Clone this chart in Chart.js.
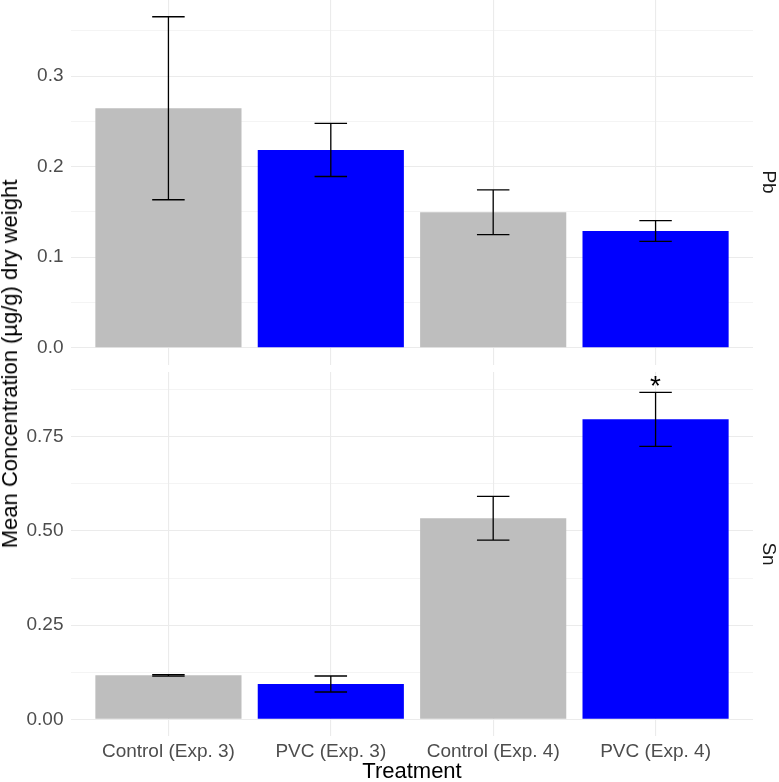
<!DOCTYPE html>
<html>
<head>
<meta charset="utf-8">
<script src="https://cdn.jsdelivr.net/npm/chart.js@4.4.1/dist/chart.umd.min.js"></script>
<style>
  html, body { margin: 0; padding: 0; background: #fff; overflow: hidden; }
  body { width: 779px; height: 782px; position: relative; font-family: "Liberation Sans", Arial, sans-serif; }
  canvas { position: absolute; left: 0; }
  #pbCanvas { top: 0; }
  #snCanvas { top: 372px; }
  .ytitle { position: absolute; left: 10px; top: 364px; transform: translate(-50%, -50%) rotate(-90deg); white-space: nowrap; font-size: 22px; color: #000; }
  .strip { position: absolute; left: 769px; transform: translate(-50%, -50%) rotate(90deg); white-space: nowrap; font-size: 19px; color: #1A1A1A; }
</style>
</head>
<body>
<canvas id="pbCanvas" width="779" height="365"></canvas>
<canvas id="snCanvas" width="779" height="411"></canvas>
<div class="ytitle">Mean Concentration (µg/g) dry weight</div>
<div class="strip" style="top:182px">Pb</div>
<div class="strip" style="top:554px">Sn</div>
<script>
// données
const treatments = ["Control (Exp. 3)", "PVC (Exp. 3)", "Control (Exp. 4)", "PVC (Exp. 4)"];
const pbMean = [0.2646, 0.2185, 0.1496, 0.1290];
const pbSE = [0.1011, 0.0293, 0.0247, 0.0114];
const snMean = [0.1167, 0.0937, 0.5334, 0.7960];
const snSE = [0.0020, 0.0212, 0.0580, 0.0718];
const snStars = ["", "", "", "*"];

const pbTicks = [0, 0.1, 0.2, 0.3];
const pbTickLabels = ["0.0", "0.1", "0.2", "0.3"];
const pbMinor = [0.05, 0.15, 0.25, 0.35];
const snTicks = [0, 0.25, 0.5, 0.75];
const snTickLabels = ["0.00", "0.25", "0.50", "0.75"];
const snMinor = [0.125, 0.375, 0.625, 0.875];

const barColors = ["#BEBEBE", "#0000FF", "#BEBEBE", "#0000FF"];
const family = '"Liberation Sans", Arial, sans-serif';

// barres d'erreur + étoile
const errorBars = {
  id: "errorBars",
  afterDatasetsDraw(chart, args, opts) {
    const { ctx } = chart;
    const x = chart.scales.x, y = chart.scales.y;
    ctx.save();
    ctx.strokeStyle = "#000";
    ctx.lineWidth = 1.3;
    opts.means.forEach((m, i) => {
      const hi = y.getPixelForValue(m + opts.ses[i]);
      const lo = y.getPixelForValue(m - opts.ses[i]);
      const cx = x.getPixelForValue(i);
      const x0 = x.getPixelForValue(i - 0.1);
      const x1 = x.getPixelForValue(i + 0.1);
      ctx.beginPath();
      ctx.moveTo(cx, hi); ctx.lineTo(cx, lo);
      ctx.moveTo(x0, hi); ctx.lineTo(x1, hi);
      ctx.moveTo(x0, lo); ctx.lineTo(x1, lo);
      ctx.stroke();
      if (opts.stars && opts.stars[i]) {
        ctx.fillStyle = "#000";
        ctx.font = "28px " + family;
        ctx.textAlign = "center";
        ctx.textBaseline = "alphabetic";
        ctx.fillText(opts.stars[i], cx, hi + 3);
      }
    });
    ctx.restore();
  }
};

function makePanel(id, means, ses, majors, labels, minors, yMin, yMax, showX, stars) {
  const ctx = document.getElementById(id).getContext("2d");
  return new Chart(ctx, {
    type: "bar",
    data: {
      datasets: [{
        data: means.map((v, i) => ({ x: i, y: v })),
        backgroundColor: barColors,
        borderWidth: 0,
        barPercentage: 0.9,
        categoryPercentage: 1.0
      }]
    },
    plugins: [errorBars],
    options: {
      responsive: false,
      animation: false,
      layout: { padding: { left: 0, right: 26, top: 0, bottom: 0 } },
      plugins: {
        legend: { display: false },
        tooltip: { enabled: false },
        errorBars: { means: means, ses: ses, stars: stars }
      },
      scales: {
        x: {
          type: "linear",
          min: -0.6,
          max: 3.6,
          offset: false,
          afterBuildTicks: ax => { ax.ticks = treatments.map((t, i) => ({ value: i })); },
          afterFit: ax => { ax.height = showX ? 47 : 0; ax.paddingLeft = 0; ax.paddingRight = 0; },
          grid: { color: "#EBEBEB", lineWidth: 1.1, drawTicks: false, offset: false },
          border: { display: false },
          ticks: {
            display: showX,
            autoSkip: false,
            maxRotation: 0,
            padding: 4,
            color: "#4D4D4D",
            font: { size: 19, family: family },
            callback: v => treatments[v]
          },
          title: {
            display: showX,
            text: "Treatment",
            color: "#000",
            font: { size: 22, family: family, lineHeight: 1 },
            padding: 0
          }
        },
        y: {
          min: yMin,
          max: yMax,
          afterBuildTicks: ax => {
            ax.ticks = majors.concat(minors).sort((a, b) => a - b).map(v => ({ value: v }));
          },
          afterFit: ax => { ax.width = 71; ax.paddingTop = 0; ax.paddingBottom = 0; },
          grid: {
            color: "#EBEBEB",
            lineWidth: c => majors.includes(c.tick.value) ? 1.1 : 0.55,
            drawTicks: false
          },
          border: { display: false },
          ticks: {
            padding: 7.5,
            color: "#4D4D4D",
            font: { size: 19, family: family },
            callback: v => {
              const k = majors.indexOf(v);
              return k >= 0 ? labels[k] : "";
            }
          }
        }
      }
    }
  });
}

makePanel("pbCanvas", pbMean, pbSE, pbTicks, pbTickLabels, pbMinor, -0.0191, 0.3842, false, null);
makePanel("snCanvas", snMean, snSE, snTicks, snTickLabels, snMinor, -0.0443, 0.9217, true, snStars);
</script>
</body>
</html>
